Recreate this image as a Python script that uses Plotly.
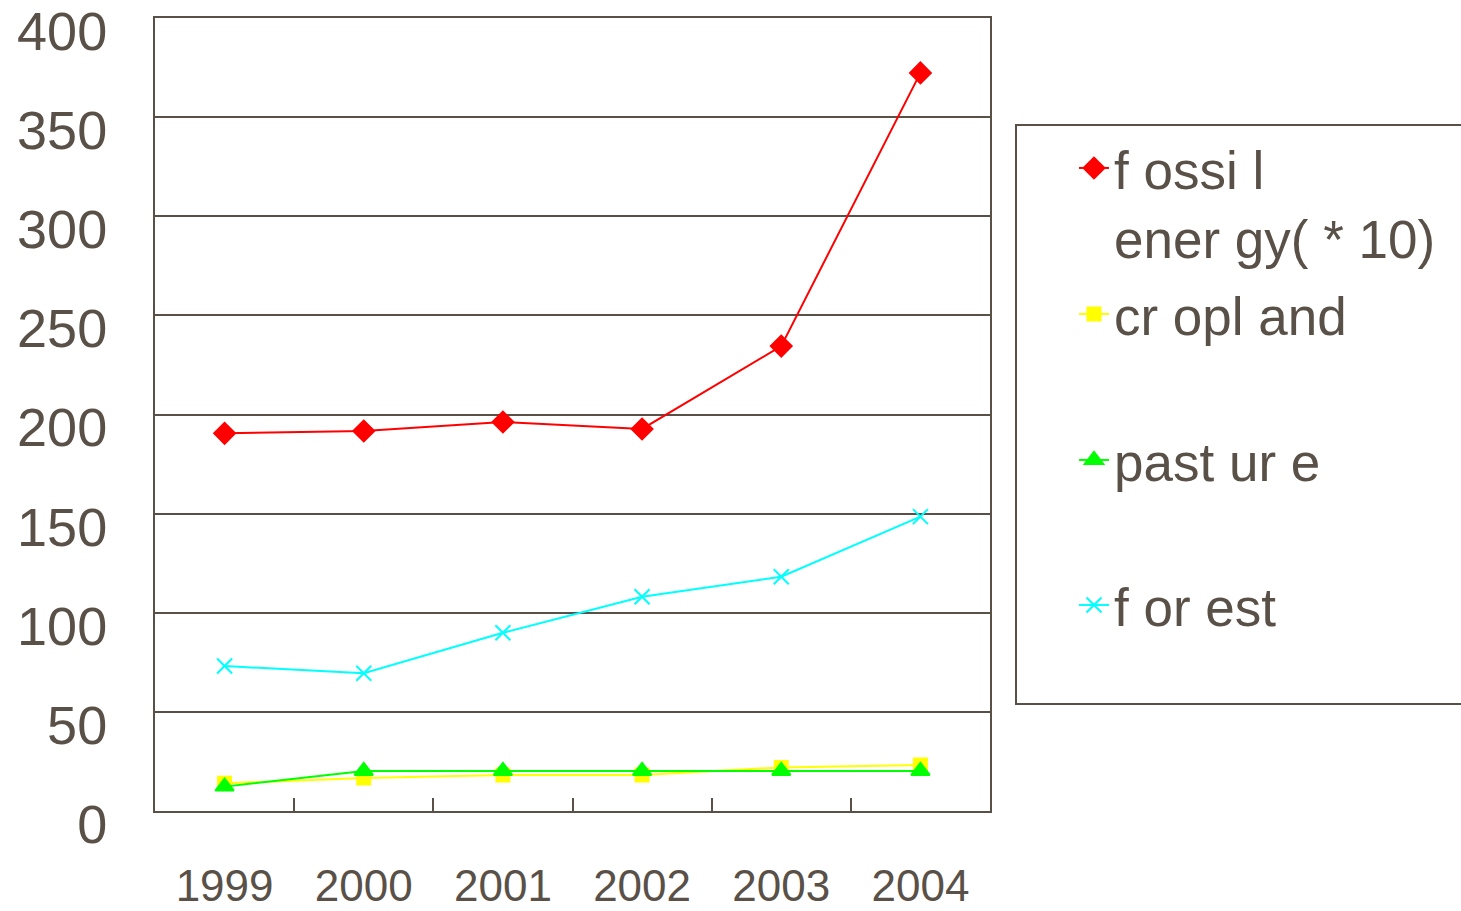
import plotly.graph_objects as go

years = ["1999", "2000", "2001", "2002", "2003", "2004"]
fossil = [190.5, 191.7, 196.2, 192.7, 234.5, 372.3]
cropland = [14.0, 16.6, 18.2, 18.2, 22.0, 23.2]
pasture = [12.3, 20.2, 20.2, 20.2, 20.2, 20.2]
forest = [73.1, 69.5, 89.9, 108.1, 118.2, 148.5]
y_ticks = [0, 50, 100, 150, 200, 250, 300, 350, 400]

names = ["f ossi l<br>ener gy( * 10)", "cr opl and", "past ur e", "f or est"]

TXT = "#595048"
FONT = "Liberation Sans, Arial, sans-serif"
W, H = 1461, 911
ML, MR, MT, MB = 155, W - 990, 18, H - 811
PW, PH = W - ML - MR, H - MT - MB

def px_y(p):
    return (H - MB - p) / PH

def px_x(p):
    return (p - ML) / PW

fig = go.Figure()
series = [
    (fossil, "#ff0000", "diamond", 16, "legend"),
    (cropland, "#ffff00", "square", 13, "legend2"),
    (pasture, "#00ff00", "triangle-up", 16, "legend3"),
    (forest, "#00ffff", "x-thin-open", 15, "legend4"),
]
for (vals, col, sym, sz, lg), nm in zip(series, names):
    fig.add_trace(go.Scatter(
        x=years, y=vals, name=nm, mode="lines+markers", showlegend=True,
        line=dict(color=col, width=2),
        marker=dict(symbol=sym, size=sz, color=col, line=dict(color=col, width=2)),
        legend=lg,
    ))

leg_common = dict(font=dict(family=FONT, size=53, color=TXT), bgcolor="rgba(0,0,0,0)",
                  borderwidth=0, x=px_x(1074), xanchor="left", visible=True)
fig.update_layout(
    width=W, height=H, showlegend=True,
    margin=dict(l=ML, r=MR, t=MT, b=MB),
    paper_bgcolor="white", plot_bgcolor="white",
    font=dict(family=FONT, color=TXT),
    legend=dict(**leg_common, y=px_y(127), yanchor="top", valign="top"),
    legend2=dict(**leg_common, y=px_y(314), yanchor="middle"),
    legend3=dict(**leg_common, y=px_y(460), yanchor="middle"),
    legend4=dict(**leg_common, y=px_y(605), yanchor="middle"),
    xaxis=dict(
        type="category", range=[-0.5, 5.5], showgrid=False, automargin=False,
        showline=True, linecolor=TXT, linewidth=2, mirror=True,
        ticks="inside", tickson="boundaries", ticklen=13, tickwidth=2, tickcolor=TXT,
        tickfont=dict(family=FONT, size=44, color=TXT), ticklabelstandoff=35,
    ),
    yaxis=dict(
        range=[0, 400], tickvals=y_ticks, showgrid=True, gridcolor=TXT, gridwidth=2,
        showline=True, linecolor=TXT, linewidth=2, mirror=True, zeroline=False,
        automargin=False,
        ticks="", tickfont=dict(family=FONT, size=54, color=TXT),
        ticklabelstandoff=35, ticklabelshift=13, ticklabeloverflow="allow",
    ),
    shapes=[dict(type="rect", xref="paper", yref="paper",
                 x0=px_x(1016), x1=px_x(1470), y0=px_y(704), y1=px_y(125),
                 line=dict(color=TXT, width=2), fillcolor="rgba(0,0,0,0)")],
)
fig.write_html("out.html", config={"displayModeBar": False},
               post_script="document.body.style.margin='0';document.body.style.overflow='hidden';")
